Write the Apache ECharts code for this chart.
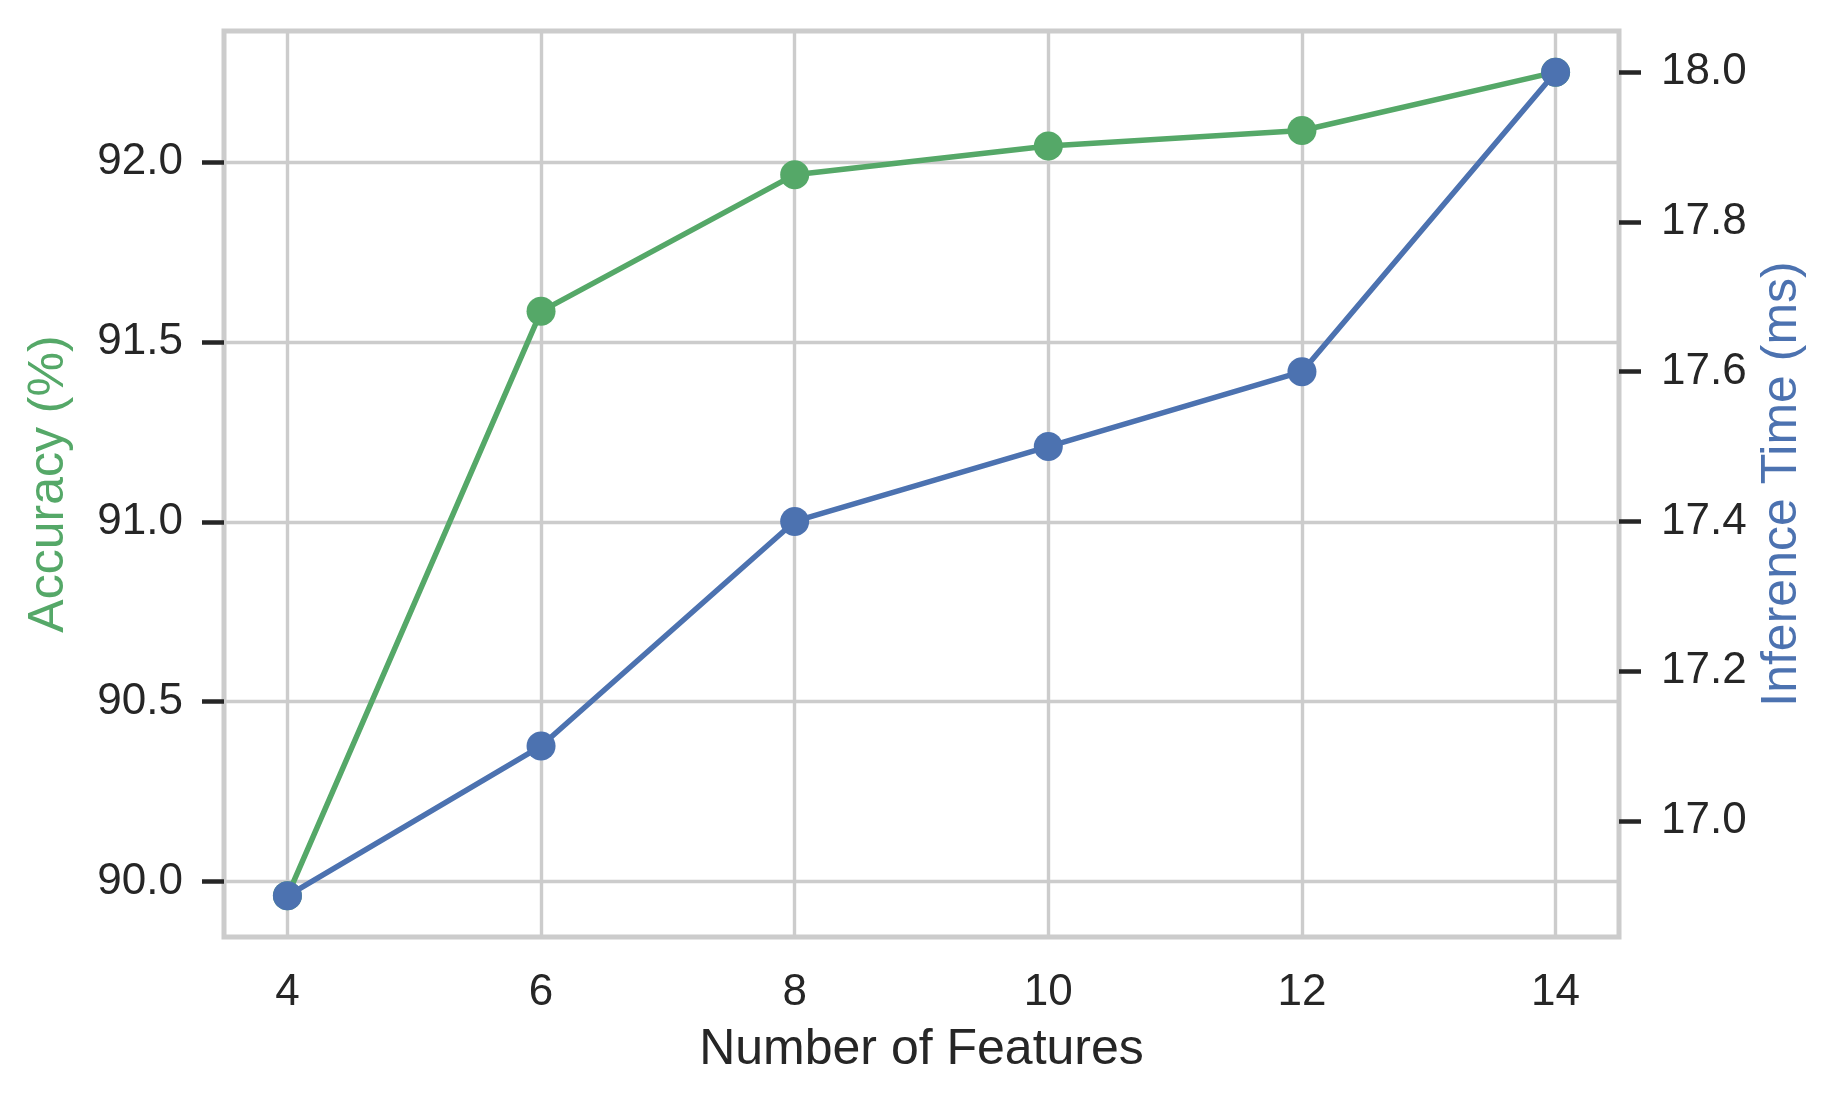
<!DOCTYPE html>
<html>
<head>
<meta charset="utf-8">
<script src="https://cdn.jsdelivr.net/npm/echarts@6/dist/echarts.min.js"></script>
<style>
html,body{margin:0;padding:0;background:#fff;}
#c{width:1842px;height:1109px;}
</style>
</head>
<body>
<div id="c"></div>
<script>
// ---- data ----
var features = [4, 6, 8, 10, 12, 14];
var accuracy = [89.96, 91.585, 91.965, 92.045, 92.088, 92.25];
var inferenceTime = [16.9, 17.1, 17.4, 17.5, 17.6, 18.0];
var xTicks = [4, 6, 8, 10, 12, 14];
var accTicks = [90.0, 90.5, 91.0, 91.5, 92.0];
var timeTicks = [17.0, 17.2, 17.4, 17.6, 17.8, 18.0];

function pad(arr) {
  var mn = Math.min.apply(null, arr), mx = Math.max.apply(null, arr);
  var r = mx - mn;
  return [mn - 0.05 * r, mx + 0.05 * r];
}
var xr = pad(features), ar = pad(accuracy), tr = pad(inferenceTime);

var FONT = "'Liberation Sans', Arial, Helvetica, sans-serif";
var TXT = '#262626';
var GRID = '#cccccc';
var GREEN = '#55a868';
var BLUE = '#4c72b0';

var chart = echarts.init(document.getElementById('c'));
chart.setOption({
  animation: false,
  backgroundColor: '#ffffff',
  grid: {
    left: 224, right: 223, top: 31, bottom: 172,
    show: true, borderColor: GRID, borderWidth: 5, backgroundColor: '#ffffff'
  },
  xAxis: {
    type: 'value', min: xr[0], max: xr[1],
    name: 'Number of Features', nameLocation: 'middle', nameGap: 88,
    nameTextStyle: { fontFamily: FONT, fontSize: 50, color: TXT },
    axisLine: { show: false },
    axisTick: { show: false, customValues: xTicks },
    axisLabel: { customValues: xTicks, fontFamily: FONT, fontSize: 44, color: TXT, margin: 34,
      formatter: function (v) { return String(Math.round(v)); } },
    splitLine: { show: true, lineStyle: { color: GRID, width: 3.4 } }
  },
  yAxis: [{
    type: 'value', min: ar[0], max: ar[1], position: 'left',
    name: 'Accuracy (%)', nameLocation: 'middle', nameGap: 150, nameRotate: 90,
    nameTextStyle: { fontFamily: FONT, fontSize: 50, color: GREEN },
    axisLine: { show: false },
    axisTick: { show: true, inside: false, length: 22, customValues: accTicks, lineStyle: { color: TXT, width: 4.5 } },
    axisLabel: { customValues: accTicks, fontFamily: FONT, fontSize: 44, color: TXT, margin: 41,
      formatter: function (v) { return v.toFixed(1); } },
    splitLine: { show: true, lineStyle: { color: GRID, width: 3.4 } }
  }, {
    type: 'value', min: tr[0], max: tr[1], position: 'right',
    name: 'Inference Time (ms)', nameLocation: 'middle', nameGap: 138, nameRotate: 90,
    nameTextStyle: { fontFamily: FONT, fontSize: 50, color: BLUE },
    axisLine: { show: false },
    axisTick: { show: true, inside: false, length: 22, customValues: timeTicks, lineStyle: { color: TXT, width: 4.5 } },
    axisLabel: { customValues: timeTicks, fontFamily: FONT, fontSize: 44, color: TXT, margin: 42,
      formatter: function (v) { return v.toFixed(1); } },
    splitLine: { show: false }
  }],
  series: [{
    name: 'Accuracy', type: 'line', yAxisIndex: 0, z: 2,
    data: features.map(function (f, i) { return [f, accuracy[i]]; }),
    symbol: 'circle', symbolSize: 29, showSymbol: true,
    lineStyle: { color: GREEN, width: 5.5 }, itemStyle: { color: GREEN }
  }, {
    name: 'Inference Time', type: 'line', yAxisIndex: 1, z: 3,
    data: features.map(function (f, i) { return [f, inferenceTime[i]]; }),
    symbol: 'circle', symbolSize: 29, showSymbol: true,
    lineStyle: { color: BLUE, width: 5.5 }, itemStyle: { color: BLUE }
  }]
});
</script>
</body>
</html>
